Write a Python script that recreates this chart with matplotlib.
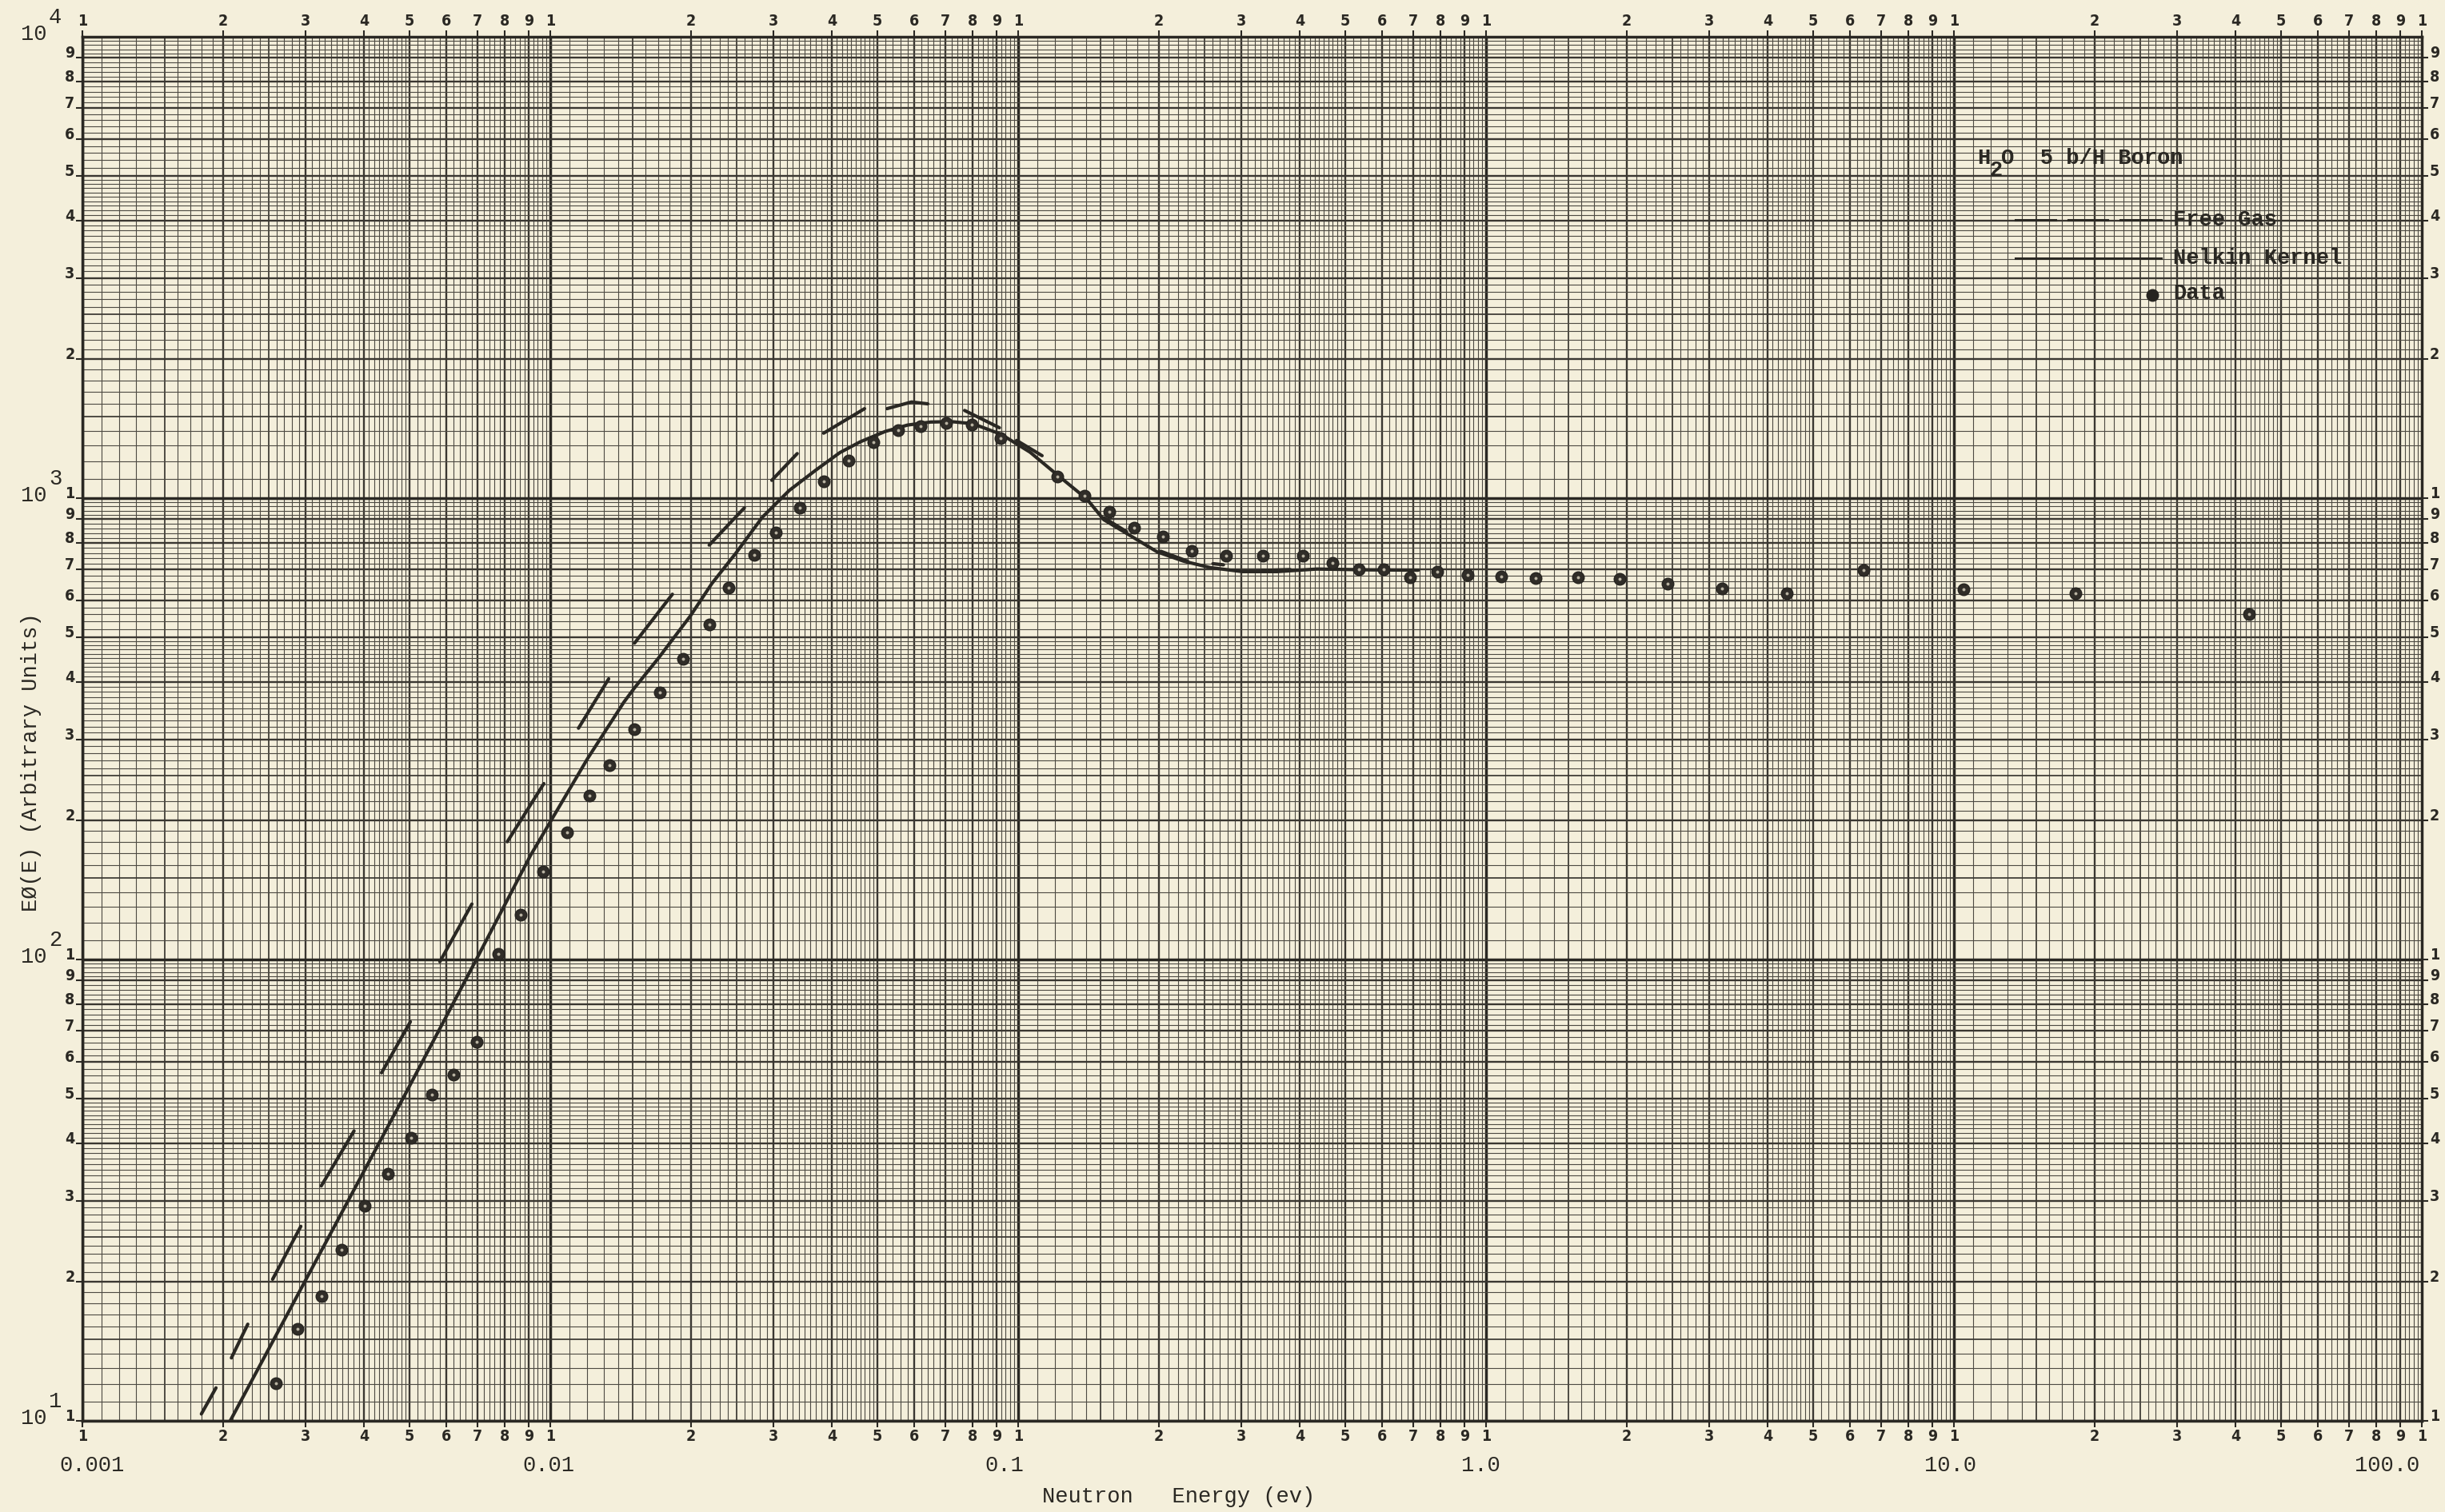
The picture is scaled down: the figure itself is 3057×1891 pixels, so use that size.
import numpy as np
import matplotlib
matplotlib.use("Agg")
import matplotlib.pyplot as plt
from matplotlib.ticker import NullLocator, FixedLocator, FixedFormatter

# ---------------- data ----------------
nan = float("nan")

data_energy = [0.00259, 0.00288, 0.00324, 0.00358, 0.00401, 0.0045, 0.00505, 0.00558,
               0.00621, 0.00695, 0.00774, 0.00866, 0.00966, 0.01085, 0.01211, 0.01336,
               0.01514, 0.01715, 0.0192, 0.0219, 0.02407, 0.02733, 0.03033, 0.03415,
               0.03844, 0.04345, 0.04911, 0.0554, 0.06186, 0.07023, 0.07966, 0.09171,
               0.1215, 0.1389, 0.1568, 0.1772, 0.2036, 0.2352, 0.278, 0.333, 0.4055,
               0.4702, 0.534, 0.604, 0.689, 0.7857, 0.914, 1.076, 1.276, 1.571, 1.930,
               2.444, 3.19, 4.40, 6.41, 10.47, 18.2, 42.7]
data_flux = [12.05, 15.8, 18.6, 23.5, 29.2, 34.3, 41.1, 51.0,
             56.4, 66.3, 102.7, 125, 155, 188.6, 226.6, 264,
             315, 379, 448, 532, 640, 754, 843, 952,
             1089, 1206, 1321, 1403, 1430, 1455, 1443, 1348,
             1114, 1012, 934, 864, 826, 769, 750, 749, 749,
             723, 702, 702, 674, 693, 681, 675, 672, 673, 668,
             653, 638, 621, 697, 635, 621, 561]

nelkin_energy = [0.00207, 0.00492, 0.00695, 0.00907, 0.0120, 0.01436, 0.01514, 0.01703,
                 0.01994, 0.02215, 0.02493, 0.02842, 0.03241, 0.03694, 0.04158, 0.046,
                 0.052, 0.058, 0.065, 0.072, 0.080, 0.092, 0.106, 0.121, 0.1403, 0.1524,
                 0.1738, 0.1981, 0.2258, 0.2575, 0.3015, 0.3576, 0.4355, 0.5656, 0.7166]
nelkin_flux = [10, 51.5, 100, 168, 272, 361, 388, 450,
               556, 653, 760, 910, 1039, 1150, 1255, 1325,
               1395, 1440, 1462, 1465, 1450, 1375, 1258, 1125, 995, 898,
               829, 765, 730, 707, 693, 693, 702, 699, 698]

# hand-drawn dashes of the free gas curve (NaN separates dashes)
free_gas_energy = [0.001796, 0.00193, nan, 0.002082, 0.002257, nan, 0.00255, 0.00293, nan,
                   0.00324, 0.003807, nan, 0.004359, 0.005024, nan, 0.005808, 0.0068, nan,
                   0.008094, 0.00969, nan, 0.01149, 0.01333, nan, 0.01514, 0.01824, nan,
                   0.02186, 0.026, nan, 0.02975, 0.03371, nan, 0.0384, 0.04697, nan,
                   0.05245, 0.05918, 0.06411, nan, 0.07683, 0.09119, nan, 0.09922, 0.1125, nan,
                   0.1524, 0.1705, nan, 0.2018, 0.2303, nan, 0.2608, 0.2747, nan, 0.3312, 0.3816]
free_gas_flux = [10.35, 11.79, nan, 13.69, 16.2, nan, 20.27, 26.4, nan,
                 32.3, 42.5, nan, 56.8, 73.3, nan, 98.9, 131.9, nan,
                 180, 240.6, nan, 317.2, 405.8, nan, 485, 619, nan,
                 791, 953, nan, 1093, 1249, nan, 1383, 1563, nan,
                 1563, 1616, 1601, nan, 1549, 1421, nan, 1334, 1236, nan,
                 907, 846, nan, 767, 730, nan, 721, 717, nan, 697, 700]

x_decades = [0.001, 0.01, 0.1, 1.0, 10.0, 100.0]
x_decade_labels = ["0.001", "0.01", "0.1", "1.0", "10.0", "100.0"]
y_decades = [10.0, 100.0, 1000.0, 10000.0]
y_decade_exponents = ["1", "2", "3", "4"]
digit_labels = ["1", "2", "3", "4", "5", "6", "7", "8", "9"]

# ---------------- style ----------------
PAPER = "#f4efdb"
INK = "#2a2823"
GRID = "#3a3731"
TYPE = ["Liberation Mono", "DejaVu Sans Mono"]
PRINT = ["Liberation Sans Narrow", "DejaVu Sans"]

W, H = 3057, 1891
fig = plt.figure(figsize=(W / 100, H / 100), dpi=100, facecolor=PAPER)
ax = fig.add_axes([103 / W, 1 - 1777 / H, 2925 / W, 1731 / H], facecolor=PAPER)
ax.set_xscale("log")
ax.set_yscale("log")
ax.set_xlim(x_decades[0], x_decades[-1])
ax.set_ylim(y_decades[0], y_decades[-1])


def paper_lines(decade_starts, vertical):
    minor, half, integer, decade = [], [], [], []
    for d in decade_starts:
        decade.append(d)
        for m in np.round(np.arange(1.1, 5.0, 0.1), 2):
            if abs(m - round(m)) < 1e-6:
                integer.append(m * d)
            elif m in (1.5, 2.5):
                half.append(m * d)
            else:
                minor.append(m * d)
        for m in np.round(np.arange(5.0, 10.0, 0.2), 2):
            if abs(m - round(m)) < 1e-6:
                integer.append(m * d)
            else:
                minor.append(m * d)
    for vals, lw, col in ((minor, 0.8, "#4d4a42"), (half, 1.25, GRID),
                          (integer, 1.7, GRID), (decade, 2.5, INK)):
        if vertical:
            ax.vlines(vals, 0, 1, transform=ax.get_xaxis_transform(),
                      colors=col, linewidth=lw, zorder=1)
        else:
            ax.hlines(vals, 0, 1, transform=ax.get_yaxis_transform(),
                      colors=col, linewidth=lw, zorder=1)


paper_lines(x_decades[:-1], True)
paper_lines(y_decades[:-1], False)
for s in ax.spines.values():
    s.set_linewidth(2.5)
    s.set_color(INK)

# ---------------- curves ----------------
ax.plot(nelkin_energy, nelkin_flux, color=INK, lw=3.0, solid_capstyle="round",
        solid_joinstyle="round", zorder=4)
ax.plot(free_gas_energy, free_gas_flux, color=INK, lw=3.0, solid_capstyle="round",
        zorder=4)
ax.plot(data_energy, data_flux, "o", ms=10.5, mfc="#302d28", mec="#262420", mew=1.0,
        zorder=5, clip_on=False)
ax.plot(data_energy, data_flux, "o", ms=2.8, mfc="#b9b3a2", mec="none", zorder=6,
        clip_on=False)

# ---------------- ticks (printed graph paper digits) ----------------
xt = [m * d for d in x_decades[:-1] for m in range(1, 10)] + [x_decades[-1]]
xl = [digit_labels[m - 1] for d in x_decades[:-1] for m in range(1, 10)] + ["1"]
yt = [m * d for d in y_decades[:-1] for m in range(1, 10)]
yl = [digit_labels[m - 1] for d in y_decades[:-1] for m in range(1, 10)]
ax.xaxis.set_major_locator(FixedLocator(xt))
ax.xaxis.set_major_formatter(FixedFormatter(xl))
ax.yaxis.set_major_locator(FixedLocator(yt))
ax.yaxis.set_major_formatter(FixedFormatter(yl))
ax.xaxis.set_minor_locator(NullLocator())
ax.yaxis.set_minor_locator(NullLocator())
ax.tick_params(axis="x", which="major", top=True, bottom=True, labeltop=True,
               labelbottom=True, direction="out", length=6, width=1.5, pad=1,
               colors=INK, labelsize=14)
ax.tick_params(axis="y", which="major", left=True, right=True, labelleft=True,
               labelright=True, direction="out", length=6, width=1.5, pad=1,
               colors=INK, labelsize=14)
for t in ax.xaxis.get_major_ticks() + ax.yaxis.get_major_ticks():
    for lab in (t.label1, t.label2):
        lab.set_fontfamily(PRINT)
        lab.set_fontweight("bold")
        lab.set_fontstretch("condensed")
for t in ax.yaxis.get_major_ticks():
    t.label1.set_verticalalignment("baseline")
    t.label2.set_verticalalignment("baseline")

# ---------------- typed labels ----------------
tfs = 19.5
bottom_label_x = [115.5, 685.7, 1256, 1851, 2439, 2985]
for lab, xp in zip(x_decade_labels, bottom_label_x):
    fig.text(xp / W, 1 - 1833 / H, lab, family=TYPE, fontsize=tfs, color=INK,
             ha="center", va="center")

for val, ex in zip(y_decades, y_decade_exponents):
    ax.annotate("10", xy=(58 / W, val), xycoords=("figure fraction", "data"),
                xytext=(0, 2), textcoords="offset points", family=TYPE,
                fontsize=tfs, color=INK, ha="right", va="center",
                annotation_clip=False)
    ax.annotate(ex, xy=(61 / W, val), xycoords=("figure fraction", "data"),
                xytext=(0, 17), textcoords="offset points", family=TYPE,
                fontsize=tfs, color=INK, ha="left", va="center",
                annotation_clip=False)

fig.text(39 / W, 1 - 953 / H, "EØ(E) (Arbitrary Units)", family=TYPE, fontsize=tfs,
         color=INK, rotation=90, ha="center", va="center")
fig.text(1303 / W, 1 - 1872 / H, "Neutron   Energy (ev)", family=TYPE, fontsize=tfs,
         color=INK, ha="left", va="center")

# ---------------- legend block (typed on the paper) ----------------
def axpos(X, Y):
    return (X - 103) / 2925, (1777 - Y) / 1731


x0, y0 = axpos(2472, 198)
ax.text(x0, y0, "H", transform=ax.transAxes, family=TYPE, fontsize=tfs, color=INK,
        fontweight="bold", va="center", ha="left", zorder=7)
x1, y1 = axpos(2487, 213)
ax.text(x1, y1, "2", transform=ax.transAxes, family=TYPE, fontsize=tfs, color=INK,
        fontweight="bold", va="center", ha="left", zorder=7)
x2, _ = axpos(2502, 198)
ax.text(x2, y0, "O  5 b/H Boron", transform=ax.transAxes, family=TYPE, fontsize=tfs,
        fontweight="bold", color=INK, va="center", ha="left", zorder=7)

for xa, xb in ((2520, 2570), (2586, 2635), (2651, 2702)):
    (ax_a, yy), (ax_b, _) = axpos(xa, 275), axpos(xb, 275)
    ax.plot([ax_a, ax_b], [yy, yy], transform=ax.transAxes, color=INK, lw=2.2, zorder=7)
xt0, yy = axpos(2717, 275)
ax.text(xt0, yy, "Free Gas", transform=ax.transAxes, family=TYPE, fontsize=tfs,
        fontweight="bold", color=INK, va="center", ha="left", zorder=7)

(ax_a, yy), (ax_b, _) = axpos(2520, 323), axpos(2702, 323)
ax.plot([ax_a, ax_b], [yy, yy], transform=ax.transAxes, color=INK, lw=2.2, zorder=7)
ax.text(xt0, yy, "Nelkin Kernel", transform=ax.transAxes, family=TYPE, fontsize=tfs,
        fontweight="bold", color=INK, va="center", ha="left", zorder=7)

xd, yd = axpos(2691, 369)
ax.plot([xd], [yd], "o", transform=ax.transAxes, ms=10.5, color="#262420", zorder=7)
_, yt_ = axpos(2717, 367)
ax.text(xt0, yt_, "Data", transform=ax.transAxes, family=TYPE, fontsize=tfs,
        fontweight="bold", color=INK, va="center", ha="left", zorder=7)

fig.savefig("out.png", dpi=100, facecolor=PAPER)
